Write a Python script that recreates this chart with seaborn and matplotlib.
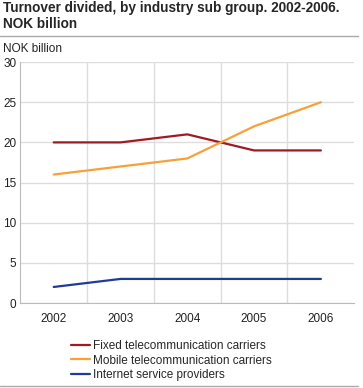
import pandas as pd
import matplotlib.pyplot as plt
import seaborn as sns

years = ["2002", "2003", "2004", "2005", "2006"]
fixed = [20, 20, 21, 19, 19]
mobile = [16, 17, 18, 22, 25]
internet = [2, 3, 3, 3, 3]
series_names = ["Fixed telecommunication carriers",
                "Mobile telecommunication carriers",
                "Internet service providers"]

rows = []
for name, vals in zip(series_names, [fixed, mobile, internet]):
    for i, v in enumerate(vals):
        rows.append({"pos": i, "year": years[i], "value": v, "series": name})
df = pd.DataFrame(rows)

sns.set_style("white")
plt.rcParams['font.family'] = ['Liberation Sans', 'DejaVu Sans']

fig = plt.figure(figsize=(3.63, 3.88), dpi=100)
ax = fig.add_axes([0.056, 0.219, 0.92, 0.621])

palette = {"Fixed telecommunication carriers": "#9e1b22",
           "Mobile telecommunication carriers": "#f7a03a",
           "Internet service providers": "#1f3b94"}
sns.lineplot(data=df, x="pos", y="value", hue="series", palette=palette,
             linewidth=1.6, ax=ax)

ax.set_xlim(-0.5, 4.5)
ax.set_ylim(0, 30)
ax.set_xticks(range(5))
ax.set_xticklabels(years)
ax.set_xticks([0.5, 1.5, 2.5, 3.5], minor=True)
ax.set_yticks(range(0, 31, 5))
ax.grid(axis="y", color="#dddddd", linewidth=1)
ax.grid(axis="x", which="minor", color="#dddddd", linewidth=1)
ax.grid(axis="x", which="major", visible=False)
ax.set_axisbelow(True)
ax.tick_params(axis="both", which="both", length=0, labelsize=8.5, colors="#222222", pad=7)
ax.tick_params(axis="y", pad=3)
for s in ["top", "right"]:
    ax.spines[s].set_visible(False)
for s in ["left", "bottom"]:
    ax.spines[s].set_color("#bbbbbb")
ax.set_xlabel("")
ax.set_ylabel("")

leg = ax.legend(loc="upper left", bbox_to_anchor=(0.12, -0.11), frameon=False,
                fontsize=8.5, handlelength=1.6, handletextpad=0.3, labelspacing=0.2)

fig.text(0.008, 0.997, "Turnover divided, by industry sub group. 2002-2006.\nNOK billion",
         fontsize=9.8, fontweight="bold", va="top", ha="left", linespacing=1.2)
fig.add_artist(plt.Line2D([0, 0.985], [0.907, 0.907], color="#aaaaaa", linewidth=1))
fig.add_artist(plt.Line2D([0, 0.985], [0.004, 0.004], color="#aaaaaa", linewidth=1))
fig.text(0.008, 0.888, "NOK billion", fontsize=8.5, va="top", ha="left", color="#222222")

fig.savefig("out.png", dpi=100)
